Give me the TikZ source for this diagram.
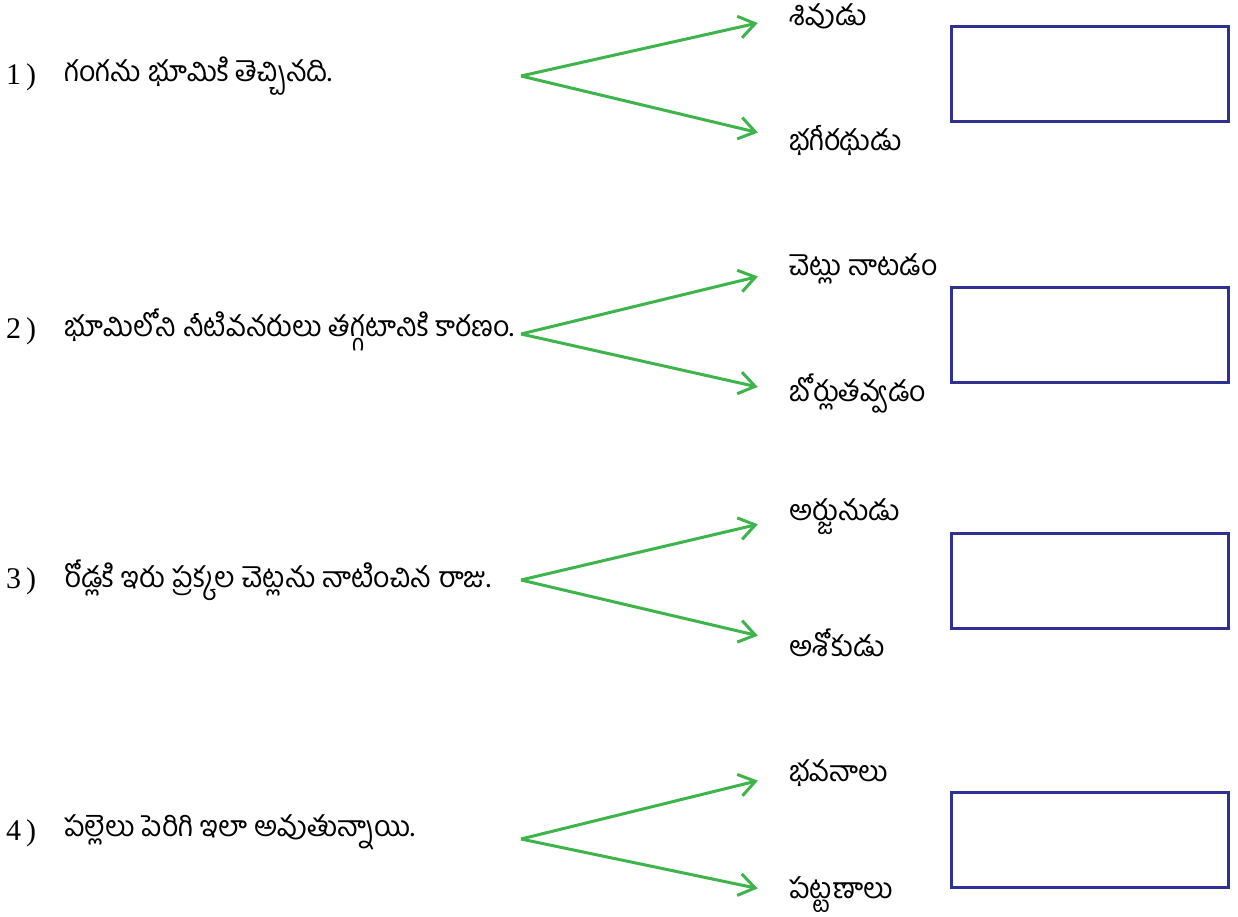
\documentclass[tikz,border=0pt]{standalone}
\usepackage{fontspec}
\newfontfamily\te[Script=Telugu]{Hind Guntur}
\newfontfamily\numfont{Liberation Serif}
\usetikzlibrary{arrows.meta}
\definecolor{arrgreen}{HTML}{3DB54A}
\definecolor{boxblue}{HTML}{2E3192}
\tikzset{
  qnum/.style={anchor=west,inner sep=0pt,font=\numfont\fontsize{30}{34}\selectfont},
  qtext/.style={anchor=west,inner sep=0pt,font=\te\fontsize{28.5}{32}\selectfont},
  opt/.style={anchor=west,inner sep=0pt,font=\te\fontsize{28.5}{32}\selectfont},
  conn/.style={draw=arrgreen,line width=3pt,shorten >=32pt,
    -{Straight Barb[length=16pt,width=22pt,line width=3pt]}},
  ansbox/.style={draw=boxblue,line width=3pt,fill=white}
}
\begin{document}
\begin{tikzpicture}[x=1pt,y=-1pt]
\useasboundingbox (0,0) rectangle (1238,917);
% item 1
\node[qnum] (n1) at (6,77) {1\,)};
\node[qtext] (q1) at (64,76) {గంగను భూమికి తెచ్చినది.};
\coordinate (o1) at (521,76);
\node[opt] (a1) at (789,16) {శివుడు};
\node[opt] (b1) at (789,140) {భగీరథుడు};
\draw[conn] (o1) -- (a1.west);
\draw[conn] (o1) -- (b1.west);
\draw[ansbox] (951,27) rectangle (1228,122);
% item 2
\node[qnum] (n2) at (6,331) {2\,)};
\node[qtext] (q2) at (64,330) {భూమిలోని నీటివనరులు తగ్గటానికి కారణం.};
\coordinate (o2) at (521,334);
\node[opt] (a2) at (789,269) {చెట్లు నాటడం};
\node[opt] (b2) at (789,394) {బోర్లుతవ్వడం};
\draw[conn] (o2) -- (a2.west);
\draw[conn] (o2) -- (b2.west);
\draw[ansbox] (951,287) rectangle (1228,382);
% item 3
\node[qnum] (n3) at (6,581) {3\,)};
\node[qtext] (q3) at (64,580) {రోడ్లకి ఇరు ప్రక్కల చెట్లను నాటించిన రాజు.};
\coordinate (o3) at (521,580);
\node[opt] (a3) at (789,517) {అర్జునుడు};
\node[opt] (b3) at (789,643) {అశోకుడు};
\draw[conn] (o3) -- (a3.west);
\draw[conn] (o3) -- (b3.west);
\draw[ansbox] (951,533) rectangle (1228,628);
% item 4
\node[qnum] (n4) at (6,833) {4\,)};
\node[qtext] (q4) at (64,832) {పల్లెలు పెరిగి ఇలా అవుతున్నాయి.};
\coordinate (o4) at (521,839);
\node[opt] (a4) at (789,773) {భవనాలు};
\node[opt] (b4) at (789,895) {పట్టణాలు};
\draw[conn] (o4) -- (a4.west);
\draw[conn] (o4) -- (b4.west);
\draw[ansbox] (951,792) rectangle (1228,887);
\end{tikzpicture}
\end{document}
